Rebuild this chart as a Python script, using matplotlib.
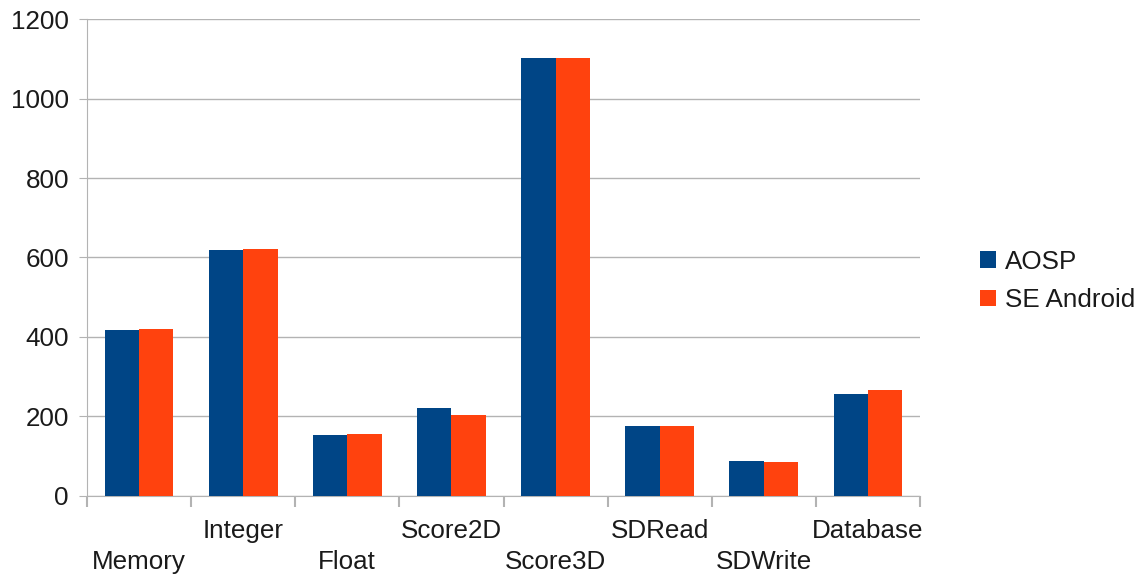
import matplotlib
matplotlib.use("Agg")
import matplotlib.pyplot as plt
import numpy as np

categories = ["Memory", "Integer", "Float", "Score2D", "Score3D", "SDRead", "SDWrite", "Database"]
aosp = [417, 619, 153, 221, 1103, 176, 87, 256]
se_android = [420, 622, 155, 203, 1103, 176, 85, 266]
series_names = ["AOSP", "SE Android"]
colors = ["#004586", "#ff420e"]
yticks = [0, 200, 400, 600, 800, 1000, 1200]

plt.rcParams['font.family'] = ['Liberation Sans', 'DejaVu Sans']
fig = plt.figure(figsize=(11.41, 5.75), dpi=100)
W, H = 1141, 575
ax = fig.add_axes([87 / W, 1 - 495.7 / H, (920 - 87) / W, (495.7 - 19.3) / H])

x = np.arange(len(categories))
bw = 0.33
ax.bar(x - bw / 2, aosp, bw, color=colors[0], label=series_names[0], zorder=3)
ax.bar(x + bw / 2, se_android, bw, color=colors[1], label=series_names[1], zorder=3)

fs = 18.7
ax.set_xlim(-0.5, len(categories) - 0.5)
ax.set_ylim(0, 1200)
ax.set_yticks(yticks)
ax.set_yticklabels([str(v) for v in yticks], fontsize=fs)
ax.grid(axis='y', color='#b3b3b3', linewidth=1, zorder=0)
for s in ['top', 'right']:
    ax.spines[s].set_visible(False)
for s in ['left', 'bottom']:
    ax.spines[s].set_color('#b3b3b3')
ax.tick_params(axis='y', length=6, color='#b3b3b3', pad=7, labelcolor='#1a1a1a')

ax.set_xticks(x)
ax.set_xticklabels(categories, fontsize=fs, color='#1a1a1a')
ax.set_xticks(np.arange(-0.5, len(categories), 1.0), minor=True)
ax.tick_params(axis='x', which='major', length=0)
ax.tick_params(axis='x', which='minor', length=8, color='#b3b3b3', width=1.5)
for i, t in enumerate(ax.xaxis.get_major_ticks()):
    t.set_pad(39 if i % 2 == 0 else 16.5)

leg = fig.legend(loc='center left', bbox_to_anchor=(957 / W, 1 - 281 / H), frameon=False,
                 fontsize=fs, handlelength=0.6, handleheight=0.6, handletextpad=0.35,
                 labelspacing=0.55)
for t in leg.get_texts():
    t.set_color('#1a1a1a')

fig.savefig("out.png", dpi=100)
